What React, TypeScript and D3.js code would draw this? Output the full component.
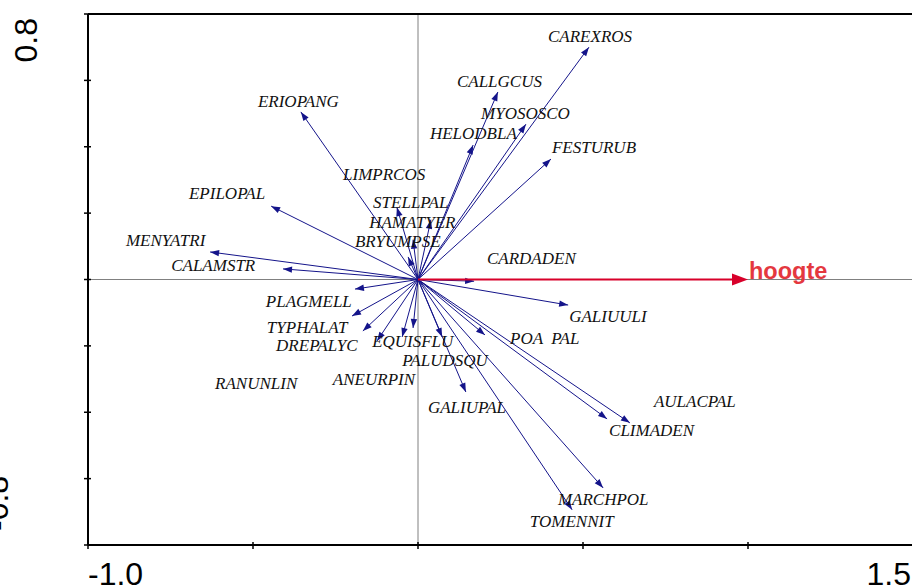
import React from "react";
import * as d3 from "d3";

const species = [
  "CAREXROS", "CALLGCUS", "MYOSOSCO", "HELODBLA", "FESTURUB", "ERIOPANG", "LIMPRCOS",
  "STELLPAL", "HAMATYER", "BRYUMPSE", "EPILOPAL", "MENYATRI", "CALAMSTR", "CARDADEN",
  "PLAGMELL", "GALIUULI", "TYPHALAT", "POA  PAL", "DREPALYC", "EQUISFLU", "PALUDSQU",
  "ANEURPIN", "RANUNLIN", "AULACPAL", "GALIUPAL", "CLIMADEN", "MARCHPOL", "TOMENNIT",
];
const axis1 = [
  0.518, 0.242, 0.327, 0.167, 0.403, -0.355, -0.064,
  0.039, -0.015, -0.03, -0.445, -0.63, -0.409, 0.17,
  -0.191, 0.455, -0.2, 0.203, -0.167, -0.124, 0.073,
  -0.048, -0.015, 0.573, 0.145, 0.642, 0.561, 0.467,
];
const axis2 = [
  0.7, 0.565, 0.468, 0.405, 0.363, 0.505, 0.218,
  0.18, 0.12, 0.068, 0.221, 0.083, 0.032, -0.005,
  -0.029, -0.077, -0.11, -0.167, -0.155, -0.185, -0.173,
  -0.173, -0.146, -0.42, -0.339, -0.432, -0.628, -0.694,
];
const labelAxis1 = [
  0.394, 0.118, 0.191, 0.036, 0.406, -0.485, -0.227,
  -0.136, -0.148, -0.191, -0.694, -0.885, -0.748, 0.209,
  -0.461, 0.458, -0.458, 0.279, -0.43, -0.139, -0.048,
  -0.258, -0.615, 0.715, 0.03, 0.579, 0.424, 0.339,
];
const labelAxis2 = [
  0.716, 0.58, 0.484, 0.423, 0.381, 0.52, 0.3,
  0.215, 0.154, 0.098, 0.243, 0.101, 0.026, 0.047,
  -0.083, -0.128, -0.161, -0.194, -0.215, -0.203, -0.261,
  -0.318, -0.33, -0.384, -0.402, -0.471, -0.679, -0.746,
];
const envName = "hoogte";
const envAxis1 = 1.0;
const envAxis2 = 0.0;
const xDomain = [-1.0, 1.5];
const yDomain = [-0.8, 0.8];
const xTicks = [-1.0, -0.5, 0, 0.5, 1.0, 1.5];
const yTicks = [-0.8, -0.6, -0.4, -0.2, 0, 0.2, 0.4, 0.6, 0.8];

function arrowHead(x1: number, y1: number, x2: number, y2: number, len: number, half: number) {
  const a = Math.atan2(y2 - y1, x2 - x1);
  const bx = x2 - len * Math.cos(a);
  const by = y2 - len * Math.sin(a);
  const px = -Math.sin(a) * half;
  const py = Math.cos(a) * half;
  return `M${x2},${y2}L${bx + px},${by + py}L${bx - px},${by - py}Z`;
}

export default function App() {
  const W = 912, H = 588;
  const left = 88, right = 913, top = 14, bottom = 545;
  const x = d3.scaleLinear().domain(xDomain).range([left, right]);
  const y = d3.scaleLinear().domain(yDomain).range([bottom, top]);
  const ox = x(0), oy = y(0);
  const blue = "#14148a";
  const ex = x(envAxis1), ey = y(envAxis2);
  return (
    <svg width={W} height={H} style={{ position: "absolute", left: 0, top: 0, background: "#fff" }}>
      {/* zero lines */}
      <line x1={ox} x2={ox} y1={top} y2={bottom} stroke="#808080" strokeWidth={1} />
      <line x1={left} x2={right} y1={oy} y2={oy} stroke="#808080" strokeWidth={1} />
      {/* frame */}
      <line x1={left} x2={right} y1={top} y2={top} stroke="#000" strokeWidth={2} />
      <line x1={left} x2={left} y1={top} y2={bottom} stroke="#000" strokeWidth={2} />
      <line x1={left} x2={right} y1={bottom} y2={bottom} stroke="#000" strokeWidth={2} />
      {xTicks.map((t, i) => (
        <line key={"xt" + i} x1={x(t)} x2={x(t)} y1={bottom - 3} y2={bottom + 4} stroke="#000" strokeWidth={1.5} />
      ))}
      {yTicks.map((t, i) => (
        <line key={"yt" + i} x1={left - 4} x2={left + 3} y1={y(t)} y2={y(t)} stroke="#000" strokeWidth={1.5} />
      ))}
      {/* axis labels */}
      <text x={x(xTicks[0])} y={585} fontFamily="Liberation Sans, Arial, sans-serif" fontSize={32} textAnchor="start">
        {xTicks[0].toFixed(1)}
      </text>
      <text x={x(xTicks[xTicks.length - 1]) - 2} y={585} fontFamily="Liberation Sans, Arial, sans-serif" fontSize={32} textAnchor="end">
        {xTicks[xTicks.length - 1].toFixed(1)}
      </text>
      <text transform={`translate(37,${y(yTicks[yTicks.length - 1]) + 4}) rotate(-90)`} fontFamily="Liberation Sans, Arial, sans-serif" fontSize={32} textAnchor="end">
        {yTicks[yTicks.length - 1].toFixed(1)}
      </text>
      <text transform={`translate(8,${y(yTicks[0]) - 14}) rotate(-90)`} fontFamily="Liberation Sans, Arial, sans-serif" fontSize={32} textAnchor="start">
        {yTicks[0].toFixed(1)}
      </text>
      {/* species arrows */}
      {species.map((s, i) => {
        const tx = x(axis1[i]), ty = y(axis2[i]);
        return (
          <g key={"sp" + i}>
            <line x1={ox} y1={oy} x2={tx} y2={ty} stroke={blue} strokeWidth={1} />
            <path d={arrowHead(ox, oy, tx, ty, 9, 3.2)} fill={blue} />
          </g>
        );
      })}
      {/* environmental arrow */}
      <line x1={ox} y1={oy} x2={ex - 14} y2={ey} stroke="#d8002a" strokeWidth={2.2} />
      <path d={arrowHead(ox, oy, ex, ey, 16, 6)} fill="#d8002a" />
      <text x={ex + 1} y={ey - 0.5} fontFamily="Liberation Sans, Arial, sans-serif" fontWeight="bold" fontSize={23.5} fill="#e4383f">
        {envName}
      </text>
      {/* species labels */}
      {species.map((s, i) => (
        <text key={"lb" + i} x={x(labelAxis1[i])} y={y(labelAxis2[i])} fontFamily="Liberation Serif, Times New Roman, serif" fontStyle="italic" fontSize={17} fill="#111" style={{ whiteSpace: "pre" }}>
          {s}
        </text>
      ))}
    </svg>
  );
}
